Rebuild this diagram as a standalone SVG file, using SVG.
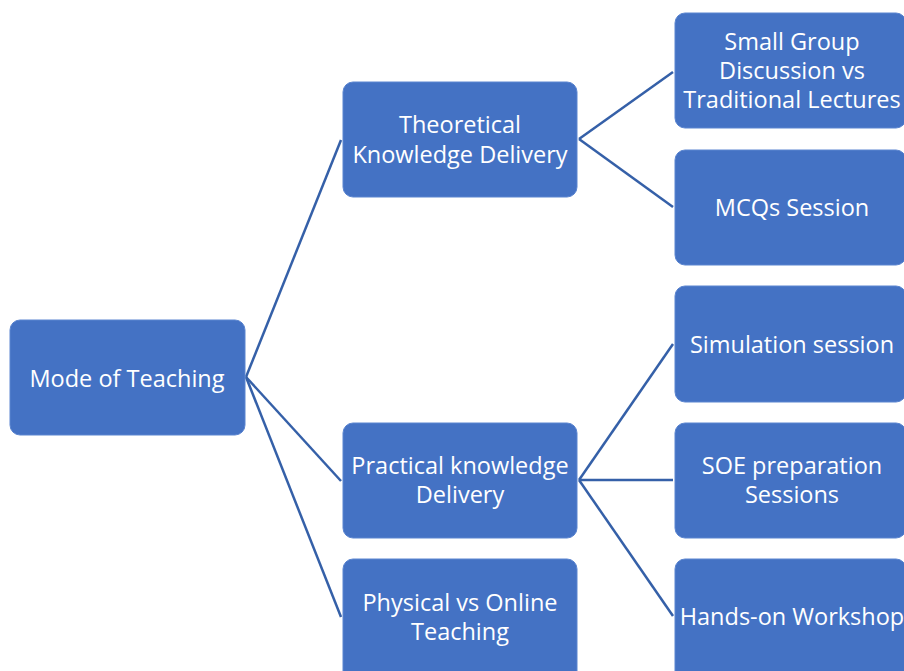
<svg xmlns="http://www.w3.org/2000/svg" width="904" height="671" viewBox="0 0 904 671">
<style>
.box{fill:#4472C4;stroke:#5B85D0;stroke-width:1}
.t{font-family:"Open Sans","Liberation Sans",sans-serif;font-size:23.5px;fill:#FFFFFF;text-anchor:middle;dominant-baseline:central}
.c{stroke:#3560A8;stroke-width:2.5;fill:none}
</style>
<rect width="904" height="671" fill="#FFFFFF"/>
<g id="connectors">
<line class="c" x1="246" y1="377" x2="341" y2="140"/>
<line class="c" x1="246" y1="377" x2="341" y2="481"/>
<line class="c" x1="246" y1="377" x2="341" y2="617"/>
<line class="c" x1="579" y1="139" x2="673" y2="72"/>
<line class="c" x1="579" y1="139" x2="673" y2="207"/>
<line class="c" x1="579" y1="480" x2="673" y2="344"/>
<line class="c" x1="579" y1="480" x2="673" y2="480"/>
<line class="c" x1="579" y1="480" x2="673" y2="616"/>
</g>
<g id="mode">
<rect class="box" x="10" y="320" width="235" height="115" rx="10"/>
<text class="t" x="127" y="378">Mode of Teaching</text>
</g>
<g id="theoretical">
<rect class="box" x="343" y="82" width="234" height="115" rx="10"/>
<text class="t" x="460" y="124">Theoretical</text>
<text class="t" x="460" y="154">Knowledge Delivery</text>
</g>
<g id="practical">
<rect class="box" x="343" y="423" width="234" height="115" rx="10"/>
<text class="t" x="460" y="465">Practical knowledge</text>
<text class="t" x="460" y="494">Delivery</text>
</g>
<g id="physical">
<rect class="box" x="343" y="559" width="234" height="125" rx="10"/>
<text class="t" x="460" y="602">Physical vs Online</text>
<text class="t" x="460" y="631">Teaching</text>
</g>
<g id="smallgroup">
<rect class="box" x="675" y="13" width="231" height="115" rx="10"/>
<text class="t" x="792" y="41">Small Group</text>
<text class="t" x="792" y="70">Discussion vs</text>
<text class="t" x="792" y="99">Traditional Lectures</text>
</g>
<g id="mcqs">
<rect class="box" x="675" y="150" width="231" height="115" rx="10"/>
<text class="t" x="792" y="207">MCQs Session</text>
</g>
<g id="simulation">
<rect class="box" x="675" y="286" width="231" height="116" rx="10"/>
<text class="t" x="792" y="344">Simulation session</text>
</g>
<g id="soe">
<rect class="box" x="675" y="423" width="231" height="115" rx="10"/>
<text class="t" x="792" y="465">SOE preparation</text>
<text class="t" x="792" y="494">Sessions</text>
</g>
<g id="handson">
<rect class="box" x="675" y="559" width="231" height="125" rx="10"/>
<text class="t" x="792" y="616">Hands-on Workshop</text>
</g>
</svg>
